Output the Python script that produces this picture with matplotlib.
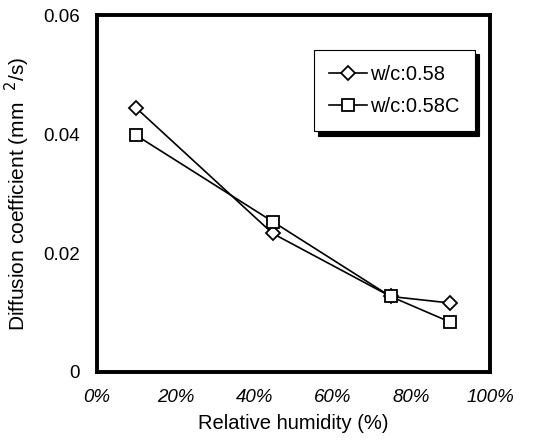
import matplotlib
matplotlib.use("Agg")
import matplotlib.pyplot as plt
from matplotlib.ticker import FuncFormatter

plt.rcParams["font.family"] = ["Liberation Sans", "DejaVu Sans"]

humidity = [0.10, 0.447, 0.747, 0.898]
wc058 = [0.0444, 0.0233, 0.0127, 0.0116]
wc058c = [0.0398, 0.0253, 0.0127, 0.0084]
labels = ["w/c:0.58", "w/c:0.58C"]

fig = plt.figure(figsize=(5.5, 4.46), dpi=100)
ax = fig.add_axes([0.176, 0.166, 0.715, 0.80])

ax.plot(humidity, wc058, color="black", lw=1.2, marker="D", ms=7,
        mfc="white", mec="black", mew=1.3, label=labels[0])
ax.plot(humidity, wc058c, color="black", lw=1.2, marker="s", ms=9,
        mfc="white", mec="black", mew=1.3, label=labels[1])

ax.set_xlim(0, 1.0)
ax.set_ylim(0, 0.06)
ax.set_xticks([0, 0.2, 0.4, 0.6, 0.8, 1.0])
ax.set_yticks([0, 0.02, 0.04, 0.06])
ax.xaxis.set_major_formatter(FuncFormatter(lambda v, p: f"{v*100:.0f}%"))
ax.yaxis.set_major_formatter(FuncFormatter(lambda v, p: "0" if v == 0 else f"{v:.2f}"))
ax.tick_params(length=0, labelsize=13.5, pad=12)
for lab in ax.get_xticklabels():
    lab.set_fontstyle("italic")

for sp in ax.spines.values():
    sp.set_linewidth(2.8)

ax.set_xlabel("Relative humidity (%)", fontsize=14.5, labelpad=6)
ax.set_ylabel("Diffusion coefficient (mm  $^2$/s)", fontsize=15, labelpad=8)

leg = ax.legend(loc="upper right", bbox_to_anchor=(0.962, 0.902), fontsize=14.5,
                frameon=True, fancybox=False,
                shadow={"color": "black", "alpha": 1.0, "ox": 3, "oy": -3},
                borderpad=0.75, labelspacing=0.65, handlelength=1.9, handletextpad=0.15,
                borderaxespad=0)
leg.get_frame().set_edgecolor("black")
leg.get_frame().set_linewidth(0.8)

fig.savefig("out.png", dpi=100)
